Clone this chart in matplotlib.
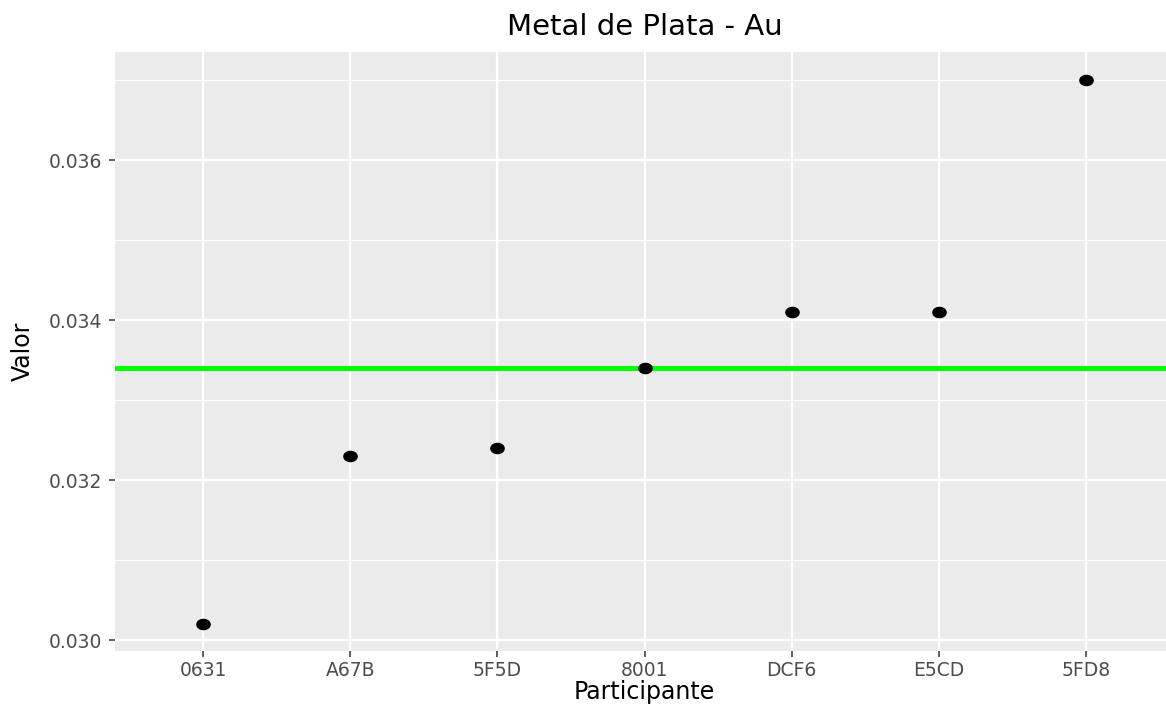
import numpy as np
import matplotlib.pyplot as plt
from matplotlib.path import Path

participantes = ["0631", "A67B", "5F5D", "8001", "DCF6", "E5CD", "5FD8"]
valores = [0.0302, 0.0323, 0.0324, 0.0334, 0.0341, 0.0341, 0.0370]
referencia = 0.0334

plt.rcParams['font.family'] = ['DejaVu Sans']

# marqueur legerement elliptique (image etiree horizontalement)
t = np.linspace(0, 2*np.pi, 60)
ellipse = Path(np.column_stack([1.3*np.cos(t), np.sin(t)]), closed=True)

fig = plt.figure(figsize=(11.66, 7.04), dpi=100)
axe = fig.add_axes([115/1166, 1 - 651/704, (1174 - 115)/1166, (651 - 52)/704])
axe.set_facecolor("#EBEBEB")

x = np.arange(len(participantes))
axe.set_xlim(-0.6, len(participantes) - 1 + 0.6)
axe.set_ylim(0.0298625, 0.03735)

axe.set_yticks([0.030, 0.032, 0.034, 0.036])
axe.set_yticklabels(["0.030", "0.032", "0.034", "0.036"])
axe.set_yticks([0.031, 0.033, 0.035, 0.037], minor=True)
axe.set_xticks(x)
axe.set_xticklabels(participantes)

axe.grid(True, which="major", color="white", linewidth=1.6)
axe.grid(True, which="minor", axis="y", color="white", linewidth=0.8)
axe.set_axisbelow(True)
for s in axe.spines.values():
    s.set_visible(False)

axe.tick_params(which="major", length=4, width=1.1, color="#333333",
                labelcolor="#4D4D4D", labelsize=13.5, pad=3)
axe.tick_params(axis="y", which="major", pad=5)
axe.tick_params(which="minor", length=0)

axe.axhline(referencia, color="#00FF00", linewidth=3.6, zorder=2)
axe.plot(x, valores, linestyle="none", marker=ellipse, markersize=9.5,
         color="black", zorder=3)

axe.set_title("Metal de Plata - Au", fontsize=21, pad=12)
axe.set_xlabel("Participante", fontsize=17, labelpad=0)
axe.set_ylabel("Valor", fontsize=17, labelpad=10)

fig.savefig("out.png", dpi=100)
